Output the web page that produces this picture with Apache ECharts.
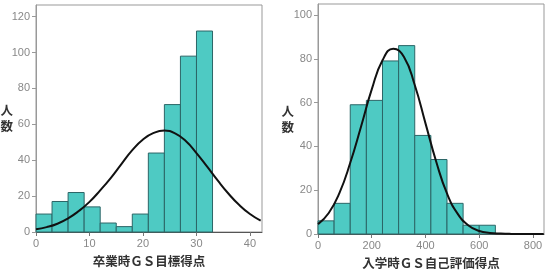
<!DOCTYPE html>
<html><head><meta charset="utf-8">
<script src="https://cdn.jsdelivr.net/npm/echarts@6/dist/echarts.min.js"></script>
<style>html,body{margin:0;padding:0;background:#fff}#c{width:549px;height:271px}</style>
</head><body><div id="c"></div>
<script>
// Left: 卒業時ＧＳ目標得点
const gsBinStart = [0, 3, 6, 9, 12, 15, 18, 21, 24, 27, 30];
const gsBinWidth = 3;
const gsCounts = [10, 17, 22, 14, 5, 3, 10, 44, 71, 98, 112];
const gsCurveX = [0, 2, 4, 6, 8, 10, 12, 14, 16, 18, 20, 22, 24, 26, 28, 30, 32, 34, 36, 38, 40, 42];
const gsCurveY = [1.5, 2.7, 4.6, 7.6, 11.7, 16.8, 23.2, 30.2, 38.0, 45.6, 51.6, 55.2, 56.5, 55.0, 50.7, 44.0, 36.4, 28.6, 21.3, 15.0, 10.0, 6.3];
const gsXTicks = [0, 10, 20, 30, 40];
const gsYTicks = [0, 20, 40, 60, 80, 100, 120];

// Right: 入学時ＧＳ自己評価得点
const selfBinStart = [0, 60, 120, 180, 240, 300, 360, 420, 480, 540, 600];
const selfBinWidth = 60;
const selfCounts = [6, 14, 59, 61, 79, 86, 45, 34, 14, 4, 4];
const selfCurveX = [0, 40, 80, 120, 160, 200, 240, 280, 320, 360, 400, 440, 480, 520, 560, 600, 640, 680, 720, 760, 800, 840];
const selfCurveY = [4.5, 9.6, 18.8, 32.5, 49.0, 66.0, 79.3, 84.6, 80.8, 68.0, 50.5, 33.0, 18.5, 9.2, 3.9, 1.4, 0.5, 0.2, 0.05, 0, 0, 0];
const selfXTicks = [0, 200, 400, 600, 800];
const selfYTicks = [0, 20, 40, 60, 80, 100];

const leftTitle = '卒業時ＧＳ目標得点';
const rightTitle = '入学時ＧＳ自己評価得点';
const yTitle = '人\n数';

const chart = echarts.init(document.getElementById('c'), null, {renderer: 'canvas'});
const BAR = '#4ecac3', BAR_EDGE = '#2c6667';
const CJK = '"Noto Sans CJK JP", sans-serif';

function bins(starts, w, counts) { return starts.map((s, i) => [s, s + w, counts[i]]); }
function renderBar(params, api) {
  const p0 = api.coord([api.value(0), api.value(2)]);
  const p1 = api.coord([api.value(1), 0]);
  return {type: 'rect', shape: {x: p0[0], y: p0[1], width: p1[0] - p0[0], height: p1[1] - p0[1]},
    style: {fill: BAR, stroke: BAR_EDGE, lineWidth: 1}};
}
function xAxis(idx, max, ticks, name) {
  return {type: 'value', gridIndex: idx, min: 0, max: max,
    name: name, nameLocation: 'middle', nameGap: 23, nameMoveOverlap: false,
    nameTextStyle: {fontFamily: CJK, fontWeight: 'bold', fontSize: 12.5, color: '#333'},
    axisLine: {show: true, onZero: false, lineStyle: {color: '#555', width: 1}},
    axisTick: {show: true, length: 4, customValues: ticks, lineStyle: {color: '#777'}},
    axisLabel: {customValues: ticks, color: '#888', fontSize: 11, fontFamily: 'Liberation Sans', margin: 6},
    splitLine: {show: false}};
}
function yAxis(idx, max, ticks, gap) {
  return {type: 'value', gridIndex: idx, min: 0, max: max,
    name: yTitle, nameLocation: 'middle', nameGap: gap, nameRotate: 0, nameMoveOverlap: false,
    nameTextStyle: {fontFamily: CJK, fontWeight: 'bold', fontSize: 12.5, color: '#333', lineHeight: 16},
    axisLine: {show: true, lineStyle: {color: '#999', width: 1}},
    axisTick: {show: true, length: 4, customValues: ticks, lineStyle: {color: '#999'}},
    axisLabel: {customValues: ticks, color: '#888', fontSize: 11, fontFamily: 'Liberation Sans', margin: 6},
    splitLine: {show: false}};
}

chart.setOption({
  animation: false,
  grid: [
    {left: 36, right: 287, top: 5, bottom: 39, show: true, borderColor: '#999', borderWidth: 1,
      containLabel: false, outerBoundsMode: 'none'},
    {left: 318, right: 5, top: 4, bottom: 37, show: true, borderColor: '#999', borderWidth: 1,
      containLabel: false, outerBoundsMode: 'none'}
  ],
  xAxis: [xAxis(0, 42.25, gsXTicks, leftTitle), xAxis(1, 841, selfXTicks, rightTitle)],
  yAxis: [yAxis(0, 126.5, gsYTicks, 23), yAxis(1, 105, selfYTicks, 24)],
  series: [
    {type: 'custom', xAxisIndex: 0, yAxisIndex: 0, renderItem: renderBar,
      data: bins(gsBinStart, gsBinWidth, gsCounts), encode: {x: [0, 1], y: 2}},
    {type: 'line', xAxisIndex: 0, yAxisIndex: 0, smooth: true, symbol: 'none',
      lineStyle: {color: '#111', width: 2}, data: gsCurveX.map((x, i) => [x, gsCurveY[i]])},
    {type: 'custom', xAxisIndex: 1, yAxisIndex: 1, renderItem: renderBar,
      data: bins(selfBinStart, selfBinWidth, selfCounts), encode: {x: [0, 1], y: 2}},
    {type: 'line', xAxisIndex: 1, yAxisIndex: 1, smooth: true, symbol: 'none',
      lineStyle: {color: '#111', width: 2}, data: selfCurveX.map((x, i) => [x, selfCurveY[i]])}
  ]
});
</script></body></html>
